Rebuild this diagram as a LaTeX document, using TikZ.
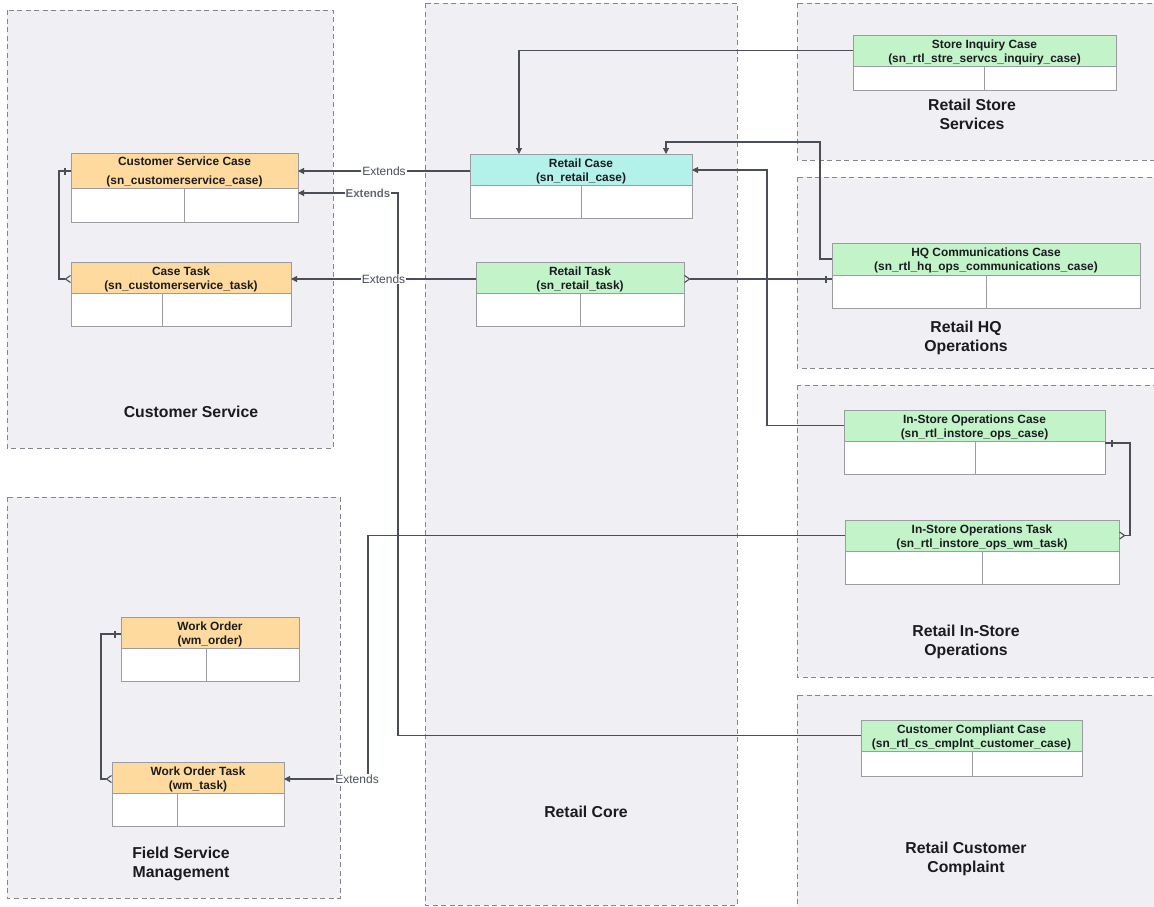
\documentclass[tikz,border=0pt]{standalone}
\usepackage{fontspec}
\setmainfont{Liberation Sans}
\usetikzlibrary{arrows.meta,calc}
\definecolor{orangeh}{HTML}{FFDA9F}
\definecolor{greenh}{HTML}{C3F3C9}
\definecolor{cyanh}{HTML}{B3F2EA}
\definecolor{boxline}{HTML}{9A9CA2}
\definecolor{edgecol}{HTML}{4A4F57}
\definecolor{contfill}{HTML}{EFEFF4}
\definecolor{contline}{HTML}{85858F}
\definecolor{txt}{HTML}{1B1B1F}
\tikzset{
  cont/.style={draw=contline, fill=contfill, line width=0.8pt, dash pattern=on 5pt off 3.5pt},
  ctitle/.style={font=\fontsize{15.8}{19}\selectfont\bfseries, align=center, text=txt, inner sep=0pt},
  ent/.style={draw=boxline, fill=white, line width=0.8pt, inner sep=0pt, outer sep=0pt},
  hdr/.style={draw=boxline, line width=0.8pt, inner sep=0pt, outer sep=0pt},
  htext/.style={align=center, text=txt, inner sep=0pt, font=\fontsize{11.9}{14}\selectfont\bfseries},
  divider/.style={draw=boxline, line width=0.8pt},
  edge/.style={draw=edgecol, line width=1.1pt},
  tri/.style={-{Triangle[length=6pt,width=6pt]}},
  many/.style={-{Straight Barb[reversed,length=5pt,width=7pt]}},
  manys/.style={{Straight Barb[reversed,length=5pt,width=7pt]}-},
  lbl/.style={fill=white, inner sep=1pt, text=edgecol, font=\fontsize{12}{14}\selectfont},
  lblb/.style={fill=white, inner sep=1pt, text=edgecol!85!white, font=\fontsize{11.5}{14}\selectfont\bfseries},
}
\newcommand\erent[9]{%
  \node[ent, minimum width={(#4-#2)*1pt}, minimum height={(#6-#3)*1pt}, anchor=north west] (#1) at (#2,#3) {};
  \node[hdr, fill=#8, minimum width={(#4-#2)*1pt}, minimum height={(#5-#3)*1pt}, anchor=north west] (#1h) at (#2,#3) {};
  \node[htext] (#1t) at ($(#1h.center)+(0,1.8)$) {#9};
  \draw[divider] (#7,#5) -- (#7,#6);
}
\newcommand\onebar[1]{\draw[edge] (#1) ++(0,-3.5) -- ++(0,7);}
\begin{document}
\begin{tikzpicture}[x=1pt,y=-1pt]
\useasboundingbox (0,0) rectangle (1154,906);
\clip (0,0) rectangle (1154,906);
% containers
\draw[cont] (7,10) rectangle (333,448);
\draw[cont] (7,497) rectangle (340,898);
\draw[cont] (425,3) rectangle (737,905);
\draw[cont] (797,3) rectangle (1170,160);
\draw[cont] (797,177) rectangle (1170,368);
\draw[cont] (797,385) rectangle (1170,677);
\draw[cont] (797,695) rectangle (1170,920);
\node[ctitle] (tcs) at (191,412) {Customer Service};
\node[ctitle] (tfsm) at (181,863.5) {Field Service\\Management};
\node[ctitle] (trc) at (586,812) {Retail Core};
\node[ctitle] (trss) at (972,114.5) {Retail Store\\Services};
\node[ctitle] (thq) at (966,337.5) {Retail HQ\\Operations};
\node[ctitle] (tis) at (966,641.5) {Retail In-Store\\Operations};
\node[ctitle] (tcc) at (966,859) {Retail Customer\\Complaint};
% entities
\erent{csc}{71}{153}{298}{188}{222}{184}{orangeh}{Customer Service Case\\[5pt](sn\_customerservice\_case)}
\erent{ct}{71}{262}{291}{293}{326}{162}{orangeh}{Case Task\\(sn\_customerservice\_task)}
\erent{rc}{470}{154}{692}{185}{218}{581}{cyanh}{Retail Case\\(sn\_retail\_case)}
\erent{rt}{476}{262}{684}{293}{326}{580}{greenh}{Retail Task\\(sn\_retail\_task)}
\erent{si}{853}{35}{1116}{66}{90}{984}{greenh}{Store Inquiry Case\\(sn\_rtl\_stre\_servcs\_inquiry\_case)}
\erent{hq}{832}{243}{1140}{275}{308}{986}{greenh}{HQ Communications Case\\(sn\_rtl\_hq\_ops\_communications\_case)}
\erent{isc}{844}{410}{1105}{441}{474}{975}{greenh}{In-Store Operations Case\\(sn\_rtl\_instore\_ops\_case)}
\erent{ist}{845}{520}{1119}{551}{584}{982}{greenh}{In-Store Operations Task\\(sn\_rtl\_instore\_ops\_wm\_task)}
\erent{wo}{121}{617}{299}{648}{681}{206}{orangeh}{Work Order\\(wm\_order)}
\erent{wot}{112}{762}{284}{793}{826}{177}{orangeh}{Work Order Task\\(wm\_task)}
\erent{cc}{861}{720}{1082}{751}{776}{972}{greenh}{Customer Compliant Case\\(sn\_rtl\_cs\_cmplnt\_customer\_case)}
% connector helper coordinates
\coordinate (k1) at (0,171);
\coordinate (k2) at (398,193);
\coordinate (k3) at (0,279);
\coordinate (k4) at (368,779);
\coordinate (k5) at (519,0);
\coordinate (k6) at (0,259);
\coordinate (k6a) at (820,142);
\coordinate (k6b) at (666,0);
\coordinate (k7) at (767,170);
\coordinate (k9) at (59,0);
\coordinate (k10) at (1130,443);
\coordinate (k11) at (101,0);
\coordinate (k12) at (0,634);
% extends
\draw[edge,tri] (rc.west |- k1) -- node[lbl]{Extends} (csc.east |- k1);
\draw[edge,tri] (cch.west) -| (k2) -- node[lblb,pos=0.3]{Extends} (csc.east |- k2);
\draw[edge,tri] (rt.west |- k3) -- node[lbl]{Extends} (ct.east |- k3);
\draw[edge,tri] (isth.west) -| (k4) -- node[lbl,pos=0.13]{Extends} (wot.east |- k4);
% references to retail case
\draw[edge,tri] (sih.west) -| (k5 |- rc.north);
\draw[edge,tri] (hq.west |- k6) -| (k6a) -| (k6b |- rc.north);
\draw[edge,tri] (isch.west) -| (k7) -- (rc.east |- k7);
% relations
\draw[edge,manys] (rt.east |- k3) -- (hq.west |- k3);
\onebar{$(hq.west |- k3)+(-6,0)$}
\draw[edge,many] (csc.west |- k1) -| (k9 |- k3) -- (ct.west |- k3);
\onebar{$(csc.west |- k1)+(-6,0)$}
\draw[edge,many] (isc.east |- k10) -- (k10) |- (isth.east);
\onebar{$(isc.east |- k10)+(7,0)$}
\draw[edge,many] (wo.west |- k12) -| (k11 |- k4) -- (wot.west |- k4);
\onebar{$(wo.west |- k12)+(-6,0)$}
\end{tikzpicture}
\end{document}
